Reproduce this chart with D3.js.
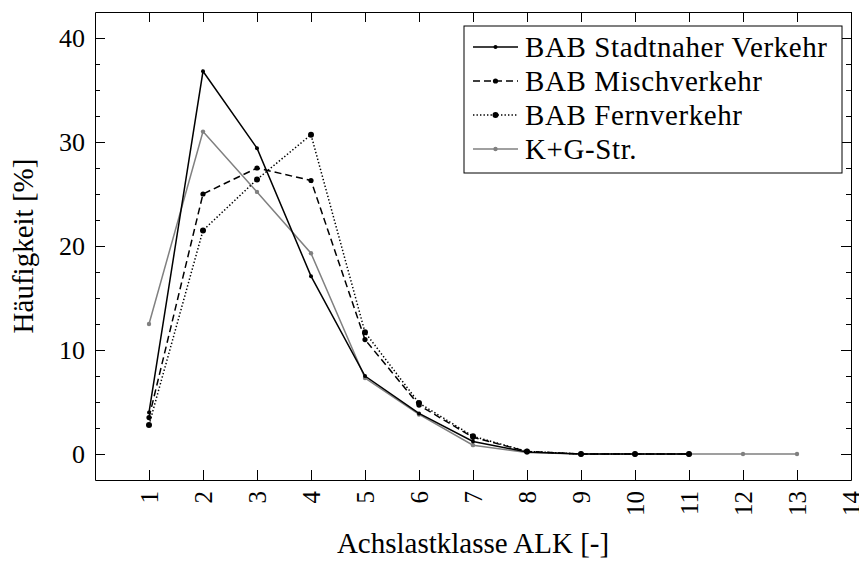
<!DOCTYPE html>
<html>
<head>
<meta charset="utf-8">
<script src="https://cdn.jsdelivr.net/npm/d3@7"></script>
<style>
  body { margin: 0; background: #fff; }
  svg text { font-family: "Liberation Serif", "Times New Roman", serif !important; fill: #000; }
  .axis path, .axis line { stroke: #000; }
</style>
</head>
<body>
<div id="chart"></div>
<script>
// Achslastklassen und Häufigkeiten
var alk = [1, 2, 3, 4, 5, 6, 7, 8, 9, 10, 11];
var alkKG = [1, 2, 3, 4, 5, 6, 7, 8, 9, 10, 11, 12, 13];
var stadtnah = [4.0, 36.8, 29.4, 17.1, 7.5, 3.9, 1.2, 0.2, 0, 0, 0];
var misch = [3.5, 25.0, 27.5, 26.3, 11.0, 4.7, 1.6, 0.25, 0, 0, 0];
var fern = [2.8, 21.5, 26.4, 30.7, 11.7, 4.9, 1.7, 0.25, 0, 0, 0];
var kg = [12.5, 31.0, 25.2, 19.3, 7.3, 3.8, 0.85, 0.15, 0, 0, 0, 0, 0];
var xTicks = [1, 2, 3, 4, 5, 6, 7, 8, 9, 10, 11, 12, 13, 14];
var yTicks = [0, 10, 20, 30, 40];
var yMinor = [2.5, 5, 7.5, 12.5, 15, 17.5, 22.5, 25, 27.5, 32.5, 35, 37.5];
var seriesNames = ["BAB Stadtnaher Verkehr", "BAB Mischverkehr", "BAB Fernverkehr", "K+G-Str."];

var serif = '"Liberation Serif", "Times New Roman", serif';

var margin = {left: 95, right: 8, top: 12, bottom: 82},
    width = 859 - margin.left - margin.right,
    height = 562 - margin.top - margin.bottom;

var svg = d3.select("#chart").append("svg")
    .attr("width", 859)
    .attr("height", 562)
    .attr("font-family", serif);

var g = svg.append("g")
    .attr("transform", `translate(${margin.left},${margin.top})`);

var x = d3.scaleLinear().domain([0, 14]).range([0, width]);
var y = d3.scaleLinear().domain([-2.5, 42.5]).range([height, 0]);

var series = [
    {name: seriesNames[0], xs: alk, vals: stadtnah, color: "#000", dash: null, r: 2},
    {name: seriesNames[1], xs: alk, vals: misch, color: "#000", dash: "7,4", r: 2.6},
    {name: seriesNames[2], xs: alk, vals: fern, color: "#000", dash: "1.4,2.1", r: 3},
    {name: seriesNames[3], xs: alkKG, vals: kg, color: "#808080", dash: null, r: 2.2}
];

// axes
g.append("g").attr("class", "axis")
    .attr("transform", `translate(0,${height})`)
    .call(d3.axisBottom(x).tickValues(xTicks).tickSize(-10).tickSizeOuter(0))
    .attr("font-family", serif)
    .call(function (a) {
        a.selectAll("text")
            .attr("transform", "rotate(-90)")
            .attr("x", -11).attr("y", 0).attr("dy", "0.34em")
            .style("text-anchor", "end")
            .style("font-family", serif)
            .style("font-size", "25px");
    });

g.append("g").attr("class", "axis")
    .call(d3.axisTop(x).tickValues(xTicks).tickSize(-10).tickSizeOuter(0).tickFormat(""));

g.append("g").attr("class", "axis")
    .call(d3.axisLeft(y).tickValues(yTicks).tickSize(-10).tickSizeOuter(0).tickPadding(10))
    .attr("font-family", serif)
    .call(function (a) {
        a.selectAll("text").style("font-family", serif).style("font-size", "26px");
    });

g.append("g").attr("class", "axis")
    .call(d3.axisLeft(y).tickValues(yMinor).tickSize(-5).tickSizeOuter(0).tickFormat(""))
    .call(function (a) { a.select(".domain").remove(); });

g.append("g").attr("class", "axis")
    .attr("transform", `translate(${width},0)`)
    .call(d3.axisRight(y).tickValues(yTicks).tickSize(-10).tickSizeOuter(0).tickFormat(""));

g.append("g").attr("class", "axis")
    .attr("transform", `translate(${width},0)`)
    .call(d3.axisRight(y).tickValues(yMinor).tickSize(-5).tickSizeOuter(0).tickFormat(""))
    .call(function (a) { a.select(".domain").remove(); });

// lines
var line = d3.line()
    .x(function (d) { return x(d[0]); })
    .y(function (d) { return y(d[1]); });

series.slice().reverse().forEach(function (s) {
    var pts = s.xs.map(function (v, i) { return [v, s.vals[i]]; });
    g.append("path")
        .datum(pts)
        .attr("fill", "none")
        .attr("stroke", s.color)
        .attr("stroke-width", 1.5)
        .attr("stroke-dasharray", s.dash)
        .attr("d", line);
    g.selectAll(null)
        .data(pts).enter()
        .append("circle")
        .attr("cx", function (d) { return x(d[0]); })
        .attr("cy", function (d) { return y(d[1]); })
        .attr("r", s.r)
        .attr("fill", s.color);
});

// legend
var lx = 464 - margin.left, ly = 26 - margin.top;
g.append("rect")
    .attr("x", lx).attr("y", ly)
    .attr("width", 378).attr("height", 147)
    .attr("fill", "#fff").attr("stroke", "#000").attr("stroke-width", 1);

var legend = g.selectAll(".legend")
    .data(series).enter()
    .append("g")
    .attr("class", "legend")
    .attr("transform", function (d, i) { return `translate(${lx},${ly + 21 + i * 34})`; });

legend.append("line")
    .attr("x1", 9).attr("x2", 54).attr("y1", 0).attr("y2", 0)
    .attr("stroke", function (d) { return d.color; })
    .attr("stroke-width", 1.5)
    .attr("stroke-dasharray", function (d) { return d.dash; });

legend.append("circle")
    .attr("cx", 31.5).attr("cy", 0)
    .attr("r", function (d) { return d.r; })
    .attr("fill", function (d) { return d.color; });

legend.append("text")
    .attr("x", 61).attr("y", 0).attr("dy", "0.34em")
    .style("font-family", serif)
    .style("font-size", "29px")
    .style("letter-spacing", "0.6px")
    .text(function (d) { return d.name; });

// axis titles
svg.append("text")
    .attr("transform", `translate(${margin.left + width / 2},553)`)
    .style("text-anchor", "middle")
    .style("font-family", serif)
    .style("font-size", "29px")
    .text("Achslastklasse ALK [-]");

svg.append("text")
    .attr("transform", `translate(33,${margin.top + height / 2}) rotate(-90)`)
    .style("text-anchor", "middle")
    .style("font-family", serif)
    .style("font-size", "29px")
    .text("Häufigkeit [%]");
</script>
</body>
</html>
